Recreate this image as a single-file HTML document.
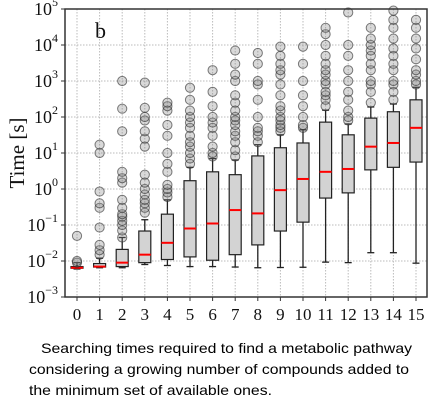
<!DOCTYPE html>
<html><head><meta charset="utf-8"><style>
body{margin:0;background:#fff;width:443px;height:403px;overflow:hidden}
svg{display:block}
</style></head><body>
<svg id="chart" width="443" height="403" viewBox="0 0 443 403" xmlns="http://www.w3.org/2000/svg">
<g id="grid"></g>
<g id="marks"></g>
<rect x="65" y="9" width="362" height="288" fill="none" stroke="#333" stroke-width="1.5"/>
<g id="axes" font-family="'Liberation Serif',serif" fill="#111"></g>
<text x="95" y="38" font-family="'Liberation Serif',serif" font-size="22" fill="#111">b</text>
<text transform="translate(24,153) rotate(-90)" text-anchor="middle" font-family="'Liberation Serif',serif" font-size="21" fill="#111">Time [s]</text>
<g font-family="'Liberation Sans',sans-serif" font-size="14" fill="#000">
<text x="41" y="353" textLength="371" lengthAdjust="spacingAndGlyphs">Searching times required to find a metabolic pathway</text>
<text x="29" y="374" textLength="380" lengthAdjust="spacingAndGlyphs">considering a growing number of compounds added to</text>
<text x="29" y="395" textLength="243" lengthAdjust="spacingAndGlyphs">the minimum set of available ones.</text>
</g>
</svg>
<script>
const categories=[0,1,2,3,4,5,6,7,8,9,10,11,12,13,14,15];
const whiskerLow=[0.006,0.0065,0.0065,0.008,0.0075,0.007,0.007,0.0068,0.0065,0.0066,0.0067,0.0093,0.009,0.017,0.017,0.0087];
const q1=[0.0063,0.0068,0.007,0.009,0.011,0.013,0.0105,0.015,0.028,0.068,0.12,0.56,0.78,3.4,4,5.6];
const median=[0.0065,0.007,0.009,0.015,0.032,0.08,0.11,0.26,0.21,0.93,1.9,3,3.6,15,19,50];
const q3=[0.007,0.0085,0.021,0.068,0.2,1.7,3,2.5,8.3,14,19,72,32,93,140,300];
const whiskerHigh=[0.009,0.012,0.045,0.14,0.5,4,7,6.4,17,32,44,155,64,190,230,670];
const outliers=[
[0.009,0.01,0.05],
[0.015,0.02,0.028,0.085,0.3,0.4,0.85,10,17],
[0.045,0.07,0.1,0.13,0.17,0.2,0.3,0.5,1.5,2,3,40,170,1000],
[0.22,0.3,0.4,0.5,0.7,1,1.5,2.5,15,25,40,80,100,180,900],
[0.6,0.8,1,1.3,3,5,10,30,60,150,200,250],
[5,7,10,15,20,30,50,70,100,150,300,650],
[8,10,15,30,50,70,100,200,500,2000],
[8,12,20,30,40,60,80,100,150,250,400,1000,1500,3000,7000],
[20,30,40,50,100,300,800,1000,3000,6000],
[40,50,60,80,100,150,200,400,800,1500,2000,3000,5000,9000],
[50,60,100,200,400,1000,3000,9000],
[200,300,400,500,800,1000,1500,2000,3000,5000,10000,20000,30000],
[80,100,150,300,500,1000,2000,5000,10000,80000],
[250,500,800,1000,2000,3000,5000,7000,10000,15000,30000],
[300,500,800,1000,2000,3000,5000,8000,15000,30000,50000,90000],
[800,1000,1500,2000,4000,8000,15000,30000,50000]];
const yTickExp=[-3,-2,-1,0,1,2,3,4,5];

const NS="http://www.w3.org/2000/svg";
function yScale(v){return 9+(5-Math.log10(v))*36;}
function xScale(i){return 77+i*22.6;}
function mk(tag,attrs,parent){const e=document.createElementNS(NS,tag);for(const k in attrs)e.setAttribute(k,attrs[k]);parent.appendChild(e);return e;}
const grid=document.getElementById('grid'),marks=document.getElementById('marks'),axes=document.getElementById('axes');
yTickExp.forEach(p=>{const y=yScale(Math.pow(10,p));
 const g=mk('line',{x1:65,x2:427,y1:y,y2:y,stroke:'#bbb','stroke-dasharray':'1.5,1.5','stroke-width':1},grid);
 
 
 const t=mk('line',{x1:61,x2:65,y1:y,y2:y,stroke:'#333'},axes);
 
 
 const lb=mk('text',{x:58,y:y+6,'text-anchor':'end','font-size':18},axes);
 
 
 lb.textContent='10';
 const sp=mk('tspan',{dy:-9,'font-size':12},lb);sp.textContent=String(p).replace('-','\u2212');
});
categories.forEach((c,i)=>{const x=xScale(i);
 const g=mk('line',{x1:x,x2:x,y1:9,y2:297,stroke:'#bbb','stroke-dasharray':'1.5,1.5'},grid);
 
 
 const t=mk('line',{x1:x,x2:x,y1:297,y2:301,stroke:'#333'},axes);
 
 
 const lb=mk('text',{x:x,y:320,'text-anchor':'middle','font-size':17},axes);
 
 
 lb.textContent=c;
 const grp=mk('g',{},marks);
 
 
 const w=6;
 mk('line',{x1:x,x2:x,y1:yScale(whiskerLow[i]),y2:yScale(q1[i]),stroke:'#222','stroke-width':1.3},grp);
 mk('line',{x1:x,x2:x,y1:yScale(q3[i]),y2:yScale(whiskerHigh[i]),stroke:'#222','stroke-width':1.3},grp);
 mk('line',{x1:x-3.5,x2:x+3.5,y1:yScale(whiskerLow[i]),y2:yScale(whiskerLow[i]),stroke:'#222','stroke-width':1.3},grp);
 mk('line',{x1:x-3.5,x2:x+3.5,y1:yScale(whiskerHigh[i]),y2:yScale(whiskerHigh[i]),stroke:'#222','stroke-width':1.3},grp);
 const yt=yScale(q3[i]),yb=yScale(q1[i]);
 mk('rect',{x:x-w,y:yt,width:2*w,height:Math.max(yb-yt,1),fill:'#d3d3d3',stroke:'#222','stroke-width':1.2},grp);
 const ym=yScale(median[i]);
 mk('line',{x1:x-w,x2:x+w,y1:ym,y2:ym,stroke:'#ff0000','stroke-width':2},grp);
 outliers[i].forEach(v=>{const cy=Math.max(yScale(v),9);
  const o=mk('circle',{cx:x,cy:cy,r:4.6,fill:'rgba(128,128,128,0.3)',stroke:'rgba(40,40,40,0.6)','stroke-width':1},grp);
  
  
 });
});
</script>
</body></html>
